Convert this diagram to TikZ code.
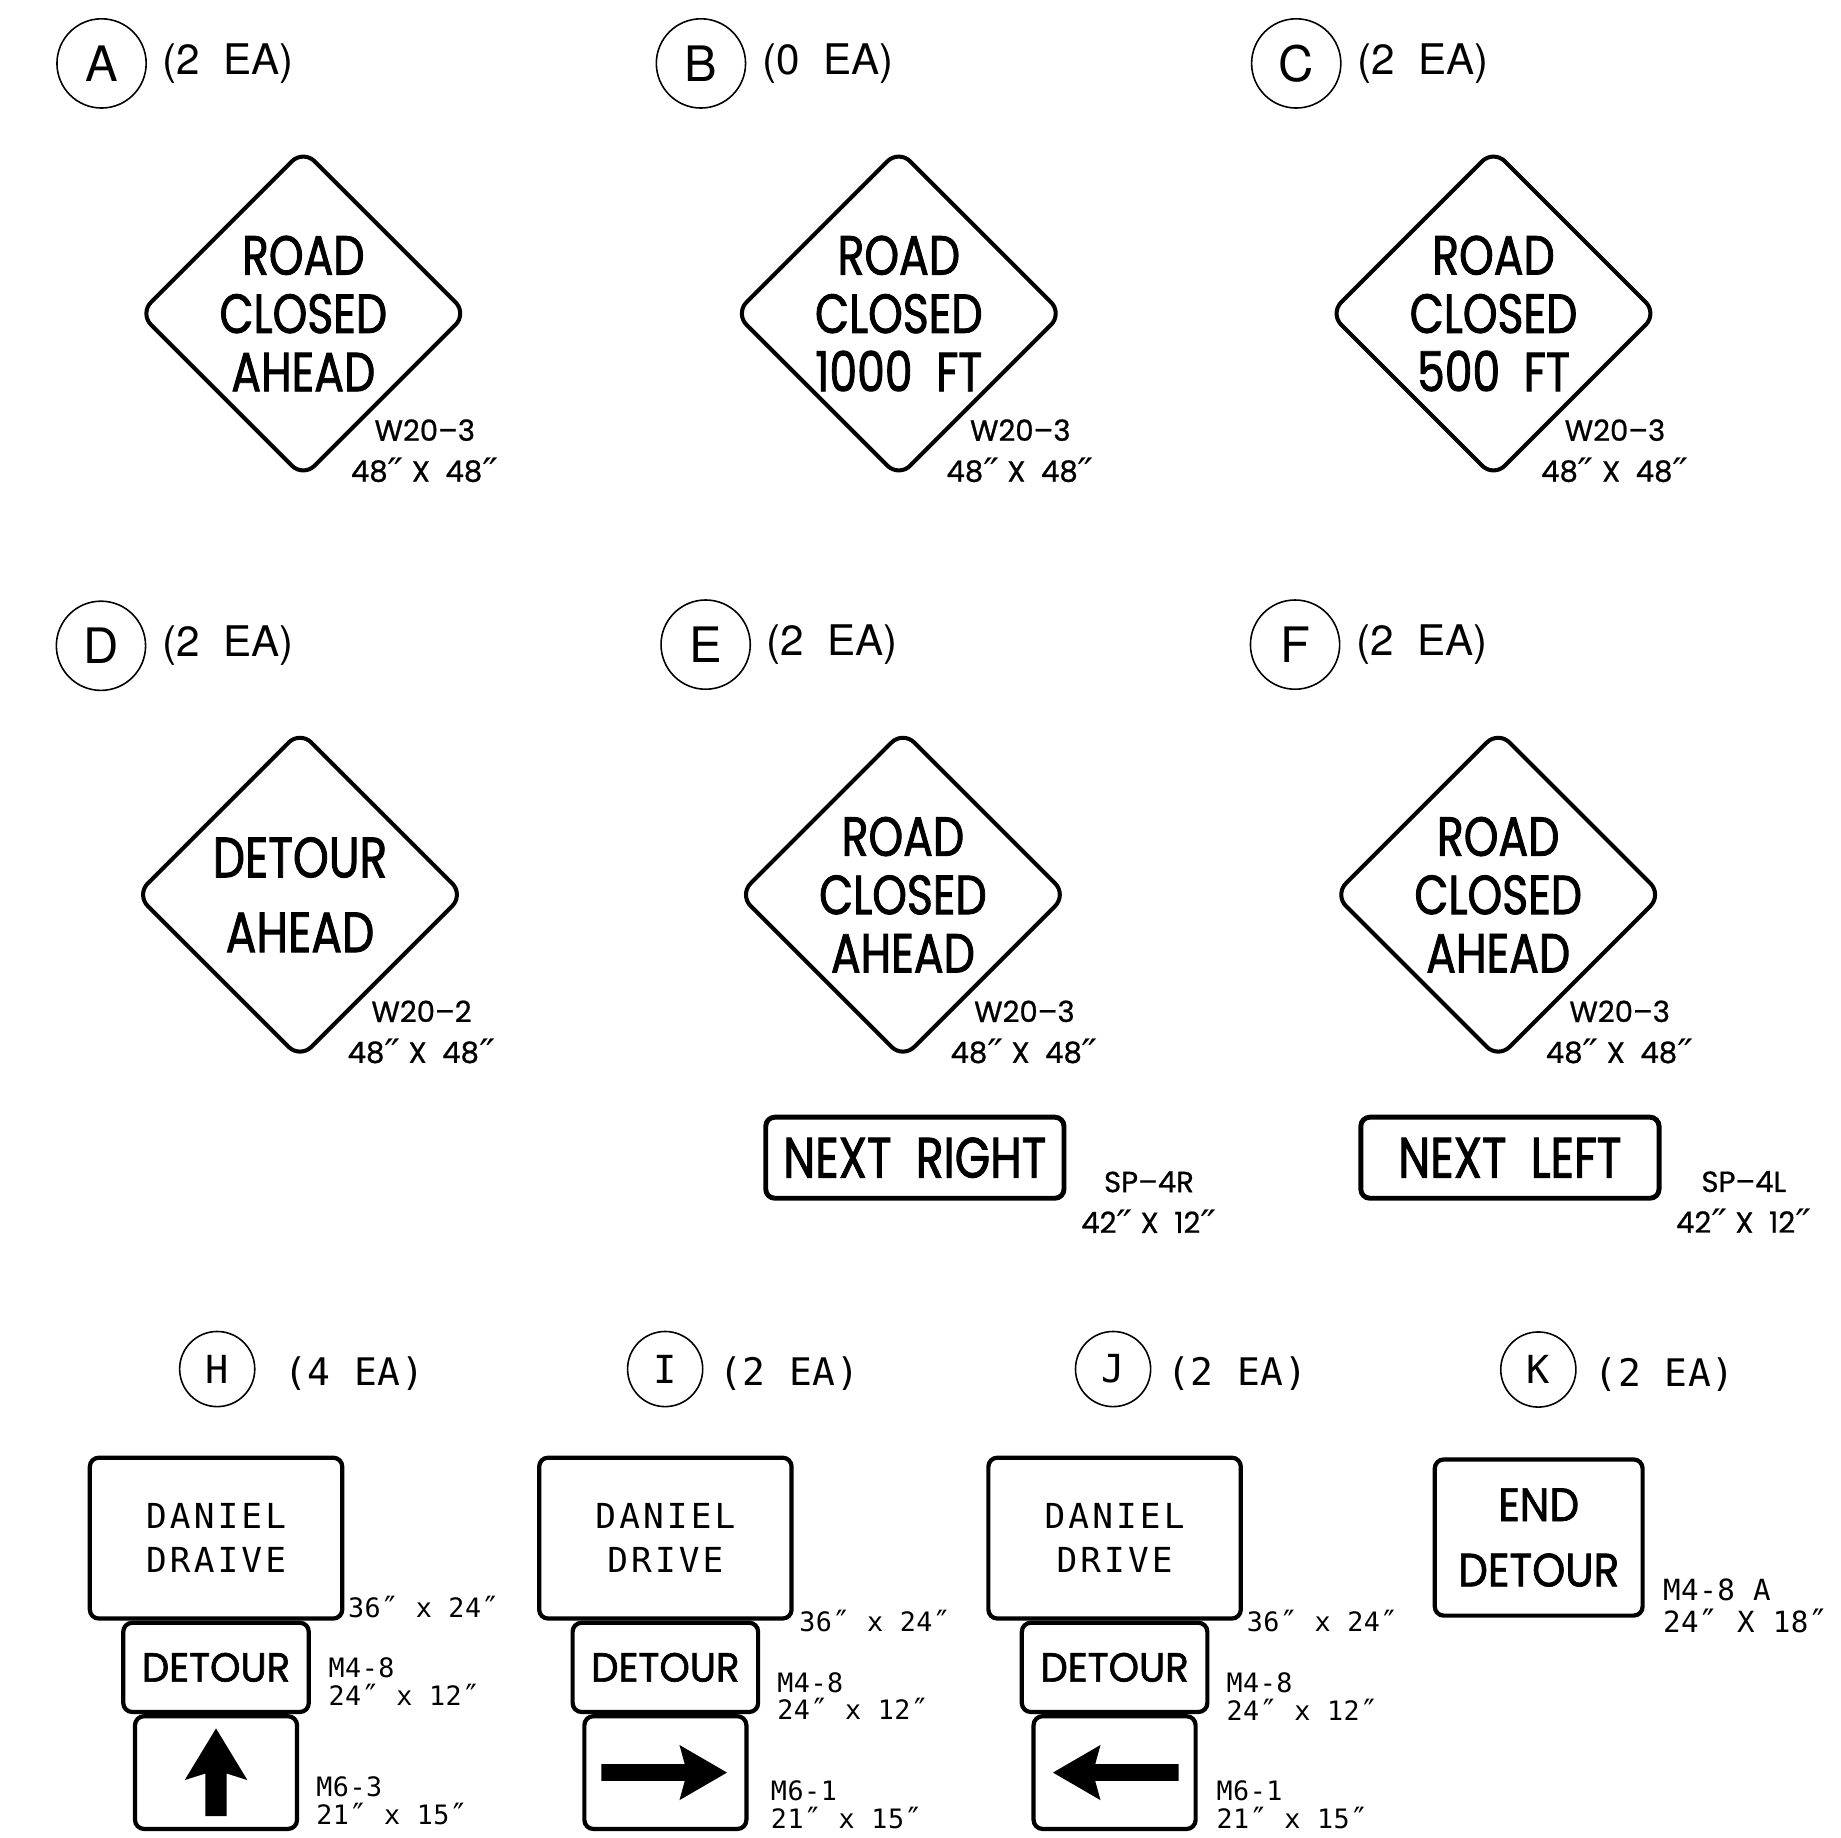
\documentclass[tikz,border=0pt]{standalone}
\usepackage{fontspec}
\usetikzlibrary{positioning, shapes.geometric}
\newfontfamily\signfont[FakeStretch=0.8, FakeBold=1.5]{Poppins}
\newfontfamily\plaquefont[FakeStretch=0.95, FakeBold=1.5]{Poppins}
\newfontfamily\endfont[FakeStretch=0.9, FakeBold=1.5]{Poppins}
\newfontfamily\codefont[FakeBold=0.8]{Poppins}
\newfontfamily\countfont{TeX Gyre Heros}
\newfontfamily\platefont[LetterSpace=9]{DejaVu Sans Mono}
\newfontfamily\tagfont[LetterSpace=2]{DejaVu Sans Mono}
\newfontfamily\tickfont{DejaVu Sans}
\newcommand\inch{{\tickfont\raisebox{-0.2ex}{\scalebox{1.5}[1.25]{″}}}}
\newcommand\pinch{\raisebox{-0.15ex}{\scalebox{1.15}[1.2]{″}}}
\newlength\drawunit
\setlength\drawunit{0.11741mm}

\begin{document}
\begin{tikzpicture}[
        x=\drawunit, y=-\drawunit,
        every node/.style={inner sep=0pt},
        tagring/.style={circle, draw, line width=0.45pt, minimum size=76*\drawunit,
            font=\countfont\fontsize{13.9}{13.9}\selectfont},
        smallring/.style={tagring, minimum size=64*\drawunit,
            font=\tagfont\fontsize{11}{11}\selectfont},
        qty/.style={anchor=west, font=\countfont\fontsize{12}{12}\selectfont},
        lowqty/.style={anchor=west, font=\tagfont\fontsize{10.8}{10.8}\selectfont},
        warnsign/.style={diamond, draw, line width=1.15pt, rounded corners=1.6mm,
            minimum size=280*\drawunit},
        signtext/.style={align=center, font=\signfont\fontsize{15.7}{16.6}\selectfont},
        codetag/.style={align=center, font=\codefont\fontsize{8.3}{11.6}\selectfont},
        plate/.style={draw, line width=1.2pt, rounded corners=0.9mm, align=center},
        nextplate/.style={plate, line width=1.4pt, minimum width=254*\drawunit,
            minimum height=69*\drawunit, font=\signfont\fontsize{16.2}{16.2}\selectfont},
        streetplate/.style={plate, minimum width=215*\drawunit, minimum height=137*\drawunit,
            font=\platefont\fontsize{9.8}{12.5}\selectfont},
        detourplate/.style={plate, minimum width=158*\drawunit, minimum height=76*\drawunit,
            font=\plaquefont\fontsize{11.6}{11.6}\selectfont},
        arrowplate/.style={plate, minimum width=138*\drawunit, minimum height=96*\drawunit},
        sizetag/.style={anchor=west, align=left, font=\tagfont\fontsize{7.6}{7.9}\selectfont},
        pics/turnarrow/.style={code={
            \fill (-54.5,-7.1) -- (16.5,-7.1) -- (12,-23.5) -- (52.5,0)
                -- (12,23.5) -- (16.5,7.1) -- (-54.5,7.1) -- cycle;}},
        pics/aheadarrow/.style={code={
            \fill (-9.1,37) -- (-9.1,0.8) -- (-26.7,6.4) -- (0,-37.6)
                -- (26.7,6.4) -- (9.1,0.8) -- (9.1,37) -- cycle;}}]

        \useasboundingbox (0,0) rectangle (1568,1565);

        % warning signs
        \node[tagring] (cA) at (86.5,54) {A};
        \node[qty, right=1.5mm of cA] {(2~~EA)};
        \node[warnsign] (wA) at (258.3,267) {};
        \node[signtext] at (wA) {ROAD\\CLOSED\\AHEAD};
        \node[codetag] at ([shift={(103.5,118)}]wA.center) {W20–3\\48\inch~X~~48\inch};

        \node[tagring] (cB) at (597,54) {B};
        \node[qty, right=1.5mm of cB] {(0~~EA)};
        \node[warnsign] (wB) at (765.5,267) {};
        \node[signtext] at (wB) {ROAD\\CLOSED\\1000~~FT};
        \node[codetag] at ([shift={(103.5,118)}]wB.center) {W20–3\\48\inch~X~~48\inch};

        \node[tagring] (cC) at (1104,54) {C};
        \node[qty, right=1.5mm of cC] {(2~~EA)};
        \node[warnsign] (wC) at (1272,267) {};
        \node[signtext] at (wC) {ROAD\\CLOSED\\500~~FT};
        \node[codetag] at ([shift={(103.5,118)}]wC.center) {W20–3\\48\inch~X~~48\inch};

        \node[tagring] (cD) at (86,550) {D};
        \node[qty, right=1.5mm of cD] {(2~~EA)};
        \node[warnsign] (wD) at (255.5,762) {};
        \node[signtext, font=\signfont\fontsize{16.2}{21.3}\selectfont] at (wD) {DETOUR\\AHEAD};
        \node[codetag] at ([shift={(103.5,118)}]wD.center) {W20–2\\48\inch~X~~48\inch};

        \node[tagring] (cE) at (601,549) {E};
        \node[qty, right=1.5mm of cE] {(2~~EA)};
        \node[warnsign] (wE) at (769,762) {};
        \node[signtext] at (wE) {ROAD\\CLOSED\\AHEAD};
        \node[codetag] at ([shift={(103.5,118)}]wE.center) {W20–3\\48\inch~X~~48\inch};
        \node[nextplate] (xE) at ([shift={(10.2,224)}]wE.center) {NEXT~~RIGHT};
        \node[codetag] at ([shift={(199.4,39.2)}]xE.center) {SP–4R\\42\inch~X~~12\inch};

        \node[tagring] (cF) at (1103,549) {F};
        \node[qty, right=1.5mm of cF] {(2~~EA)};
        \node[warnsign] (wF) at (1276,762) {};
        \node[signtext] at (wF) {ROAD\\CLOSED\\AHEAD};
        \node[codetag] at ([shift={(103.5,118)}]wF.center) {W20–3\\48\inch~X~~48\inch};
        \node[nextplate] (xF) at ([shift={(10,224)}]wF.center) {NEXT~~LEFT};
        \node[codetag] at ([shift={(199.2,39)}]xF.center) {SP–4L\\42\inch~X~~12\inch};

        % detour assemblies
        \node[smallring] (cH) at (185,1166) {H};
        \node[lowqty, right=2.8mm of cH, yshift=-1mm/2] {(4 EA)};
        \node[streetplate] (nH) at (184,1310) {DANIEL\\DRAIVE};
        \node[detourplate, below=0pt of nH] (pH) {DETOUR};
        \node[arrowplate, below=0pt of pH] (aH) {};
        \pic at (aH) {aheadarrow};
        \node[sizetag] at ([shift={(2.5,-11)}]nH.south east) {36\pinch{} x 24\pinch};
        \node[sizetag] at ([shift={(14.5,13)}]pH.east) {M4-8\\24\pinch{} x 12\pinch};
        \node[sizetag] at ([shift={(14,25)}]aH.east) {M6-3\\21\pinch{} x 15\pinch};

        \node[smallring] (cI) at (566.5,1166) {I};
        \node[lowqty, right=1.5mm of cI, yshift=-1mm/2] {(2 EA)};
        \node[streetplate] (nI) at (566.7,1310) {DANIEL\\DRIVE};
        \node[detourplate, below=0pt of nI] (pI) {DETOUR};
        \node[arrowplate, below=0pt of pI] (aI) {};
        \pic at (aI) {turnarrow};
        \node[sizetag] at ([shift={(4.2,1)}]nI.south east) {36\pinch{} x 24\pinch};
        \node[sizetag] at ([shift={(14,25.3)}]pI.east) {M4-8\\24\pinch{} x 12\pinch};
        \node[sizetag] at ([shift={(18.5,28)}]aI.east) {M6-1\\21\pinch{} x 15\pinch};

        \node[smallring] (cJ) at (948,1166) {J};
        \node[lowqty, right=1.5mm of cJ, yshift=-1mm/2] {(2 EA)};
        \node[streetplate] (nJ) at (949.3,1310) {DANIEL\\DRIVE};
        \node[detourplate, below=0pt of nJ] (pJ) {DETOUR};
        \node[arrowplate, below=0pt of pJ] (aJ) {};
        \pic[xscale=-1] at (aJ) {turnarrow};
        \node[sizetag] at ([shift={(2.7,1)}]nJ.south east) {36\pinch{} x 24\pinch};
        \node[sizetag] at ([shift={(14,26)}]pJ.east) {M4-8\\24\pinch{} x 12\pinch};
        \node[sizetag] at ([shift={(15.5,28)}]aJ.east) {M6-1\\21\pinch{} x 15\pinch};

        \node[smallring] (cK) at (1310.2,1166.4) {K};
        \node[lowqty, right=1.7mm of cK, yshift=-1mm/2] {(2 EA)};
        \node[plate, minimum width=177*\drawunit, minimum height=133*\drawunit,
            font=\endfont\fontsize{13.3}{18.6}\selectfont] (eK) at (1310.5,1309.5) {END\\DETOUR};
        \node[sizetag, font=\tagfont\fontsize{8.3}{8.9}\selectfont] at ([shift={(15,59)}]eK.east) {M4-8 A\\24\pinch{} X 18\pinch};

    \end{tikzpicture}
\end{document}
